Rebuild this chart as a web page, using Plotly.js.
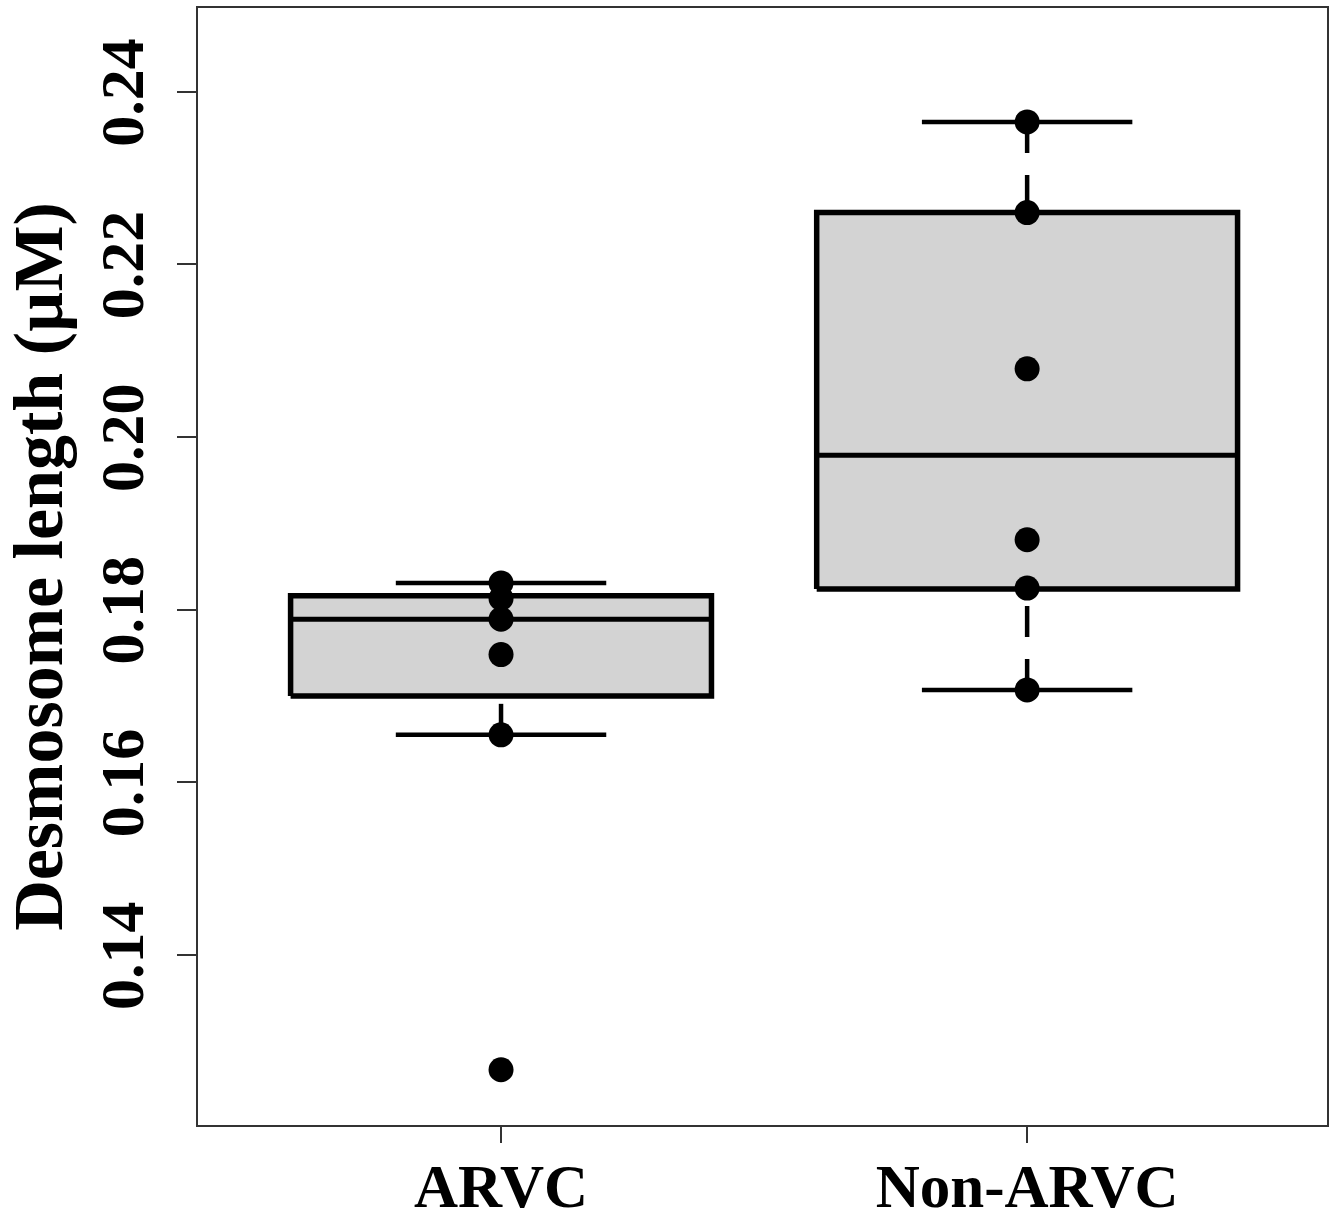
<!DOCTYPE html>
<html>
<head>
<meta charset="utf-8">
<script src="https://cdn.plot.ly/plotly-3.0.1.min.js"></script>
<style>
  html, body { margin: 0; padding: 0; background: #ffffff; }
  #chart { width: 1339px; height: 1214px; }
</style>
</head>
<body>
<div id="chart"></div>
<script>
// ---- data ----
const groups = ["ARVC", "Non-ARVC"];
const groupPos = [0, 1];
const arvcPoints = [0.1831, 0.1813, 0.1789, 0.1748, 0.1655, 0.1267];
const nonArvcPoints = [0.2365, 0.2260, 0.2079, 0.1881, 0.1825, 0.1707];
const q1 = [0.1700, 0.1824];
const median = [0.1789, 0.1979];
const q3 = [0.1816, 0.2260];
const lowerWhisker = [0.1655, 0.1707];
const upperWhisker = [0.1831, 0.2365];
const yTicks = [0.14, 0.16, 0.18, 0.20, 0.22, 0.24];
const yTickText = ["0.14", "0.16", "0.18", "0.20", "0.22", "0.24"];

// ---- styles ----
const FONT = "'Liberation Serif', 'Times New Roman', Times, serif";
const boxHalf = 0.40;
const stapleHalf = 0.20;
const pointSets = [arvcPoints, nonArvcPoints];

const traces = [];
groups.forEach((g, i) => {
  const c = groupPos[i];
  // box body
  traces.push({
    type: "scatter", mode: "lines", hoverinfo: "skip", showlegend: false,
    x: [c - boxHalf, c + boxHalf, c + boxHalf, c - boxHalf, c - boxHalf],
    y: [q1[i], q1[i], q3[i], q3[i], q1[i]],
    fill: "toself", fillcolor: "#d3d3d3",
    line: { color: "#000000", width: 5.5, shape: "linear" }
  });
  // median
  traces.push({
    type: "scatter", mode: "lines", hoverinfo: "skip", showlegend: false,
    x: [c - boxHalf, c + boxHalf], y: [median[i], median[i]],
    line: { color: "#000000", width: 5 }
  });
  // whiskers (dashed), drawn from the extreme toward the box (as R does)
  traces.push({
    type: "scatter", mode: "lines", hoverinfo: "skip", showlegend: false,
    x: [c, c], y: [lowerWhisker[i], q1[i]],
    line: { color: "#000000", width: 4.5, dash: "31px,22px" }
  });
  traces.push({
    type: "scatter", mode: "lines", hoverinfo: "skip", showlegend: false,
    x: [c, c], y: [upperWhisker[i], q3[i]],
    line: { color: "#000000", width: 4.5, dash: "31px,22px" }
  });
  // staples
  [lowerWhisker[i], upperWhisker[i]].forEach(v => {
    traces.push({
      type: "scatter", mode: "lines", hoverinfo: "skip", showlegend: false,
      x: [c - stapleHalf, c + stapleHalf], y: [v, v],
      line: { color: "#000000", width: 4.5 }
    });
  });
  // points
  traces.push({
    type: "scatter", mode: "markers", name: g, showlegend: false,
    x: pointSets[i].map(() => c), y: pointSets[i],
    marker: { color: "#000000", size: 25, symbol: "circle", line: { width: 0 } }
  });
});

const layout = {
  width: 1339, height: 1214,
  margin: { l: 198, r: 12, t: 8, b: 89, pad: 0 },
  paper_bgcolor: "#ffffff", plot_bgcolor: "#ffffff",
  showlegend: false,
  font: { family: FONT, color: "#000000" },
  xaxis: {
    range: [-0.576, 1.570], tickvals: groupPos, ticktext: groups,
    showgrid: false, zeroline: false,
    showline: true, mirror: true, linecolor: "#333333", linewidth: 2,
    ticks: "outside", ticklen: 16, tickwidth: 2, tickcolor: "#333333",
    ticklabelstandoff: -9,
    tickfont: { family: FONT, size: 61, weight: "bold", color: "#000000" },
    automargin: false
  },
  yaxis: {
    range: [0.1203, 0.2497], tickvals: yTicks, ticktext: yTickText,
    tickangle: -90,
    ticklabelstandoff: 9,
    ticklabelshift: 10,
    showgrid: false, zeroline: false,
    showline: true, mirror: true, linecolor: "#333333", linewidth: 2,
    ticks: "outside", ticklen: 19, tickwidth: 2, tickcolor: "#333333",
    tickfont: { family: FONT, size: 62, weight: "bold", color: "#000000" },
    title: { text: "Desmosome length (µM)", font: { family: FONT, size: 70, weight: "bold", color: "#000000" }, standoff: 16 },
    automargin: false
  }
};

Plotly.newPlot("chart", traces, layout, { displayModeBar: false, staticPlot: true });
</script>
</body>
</html>
